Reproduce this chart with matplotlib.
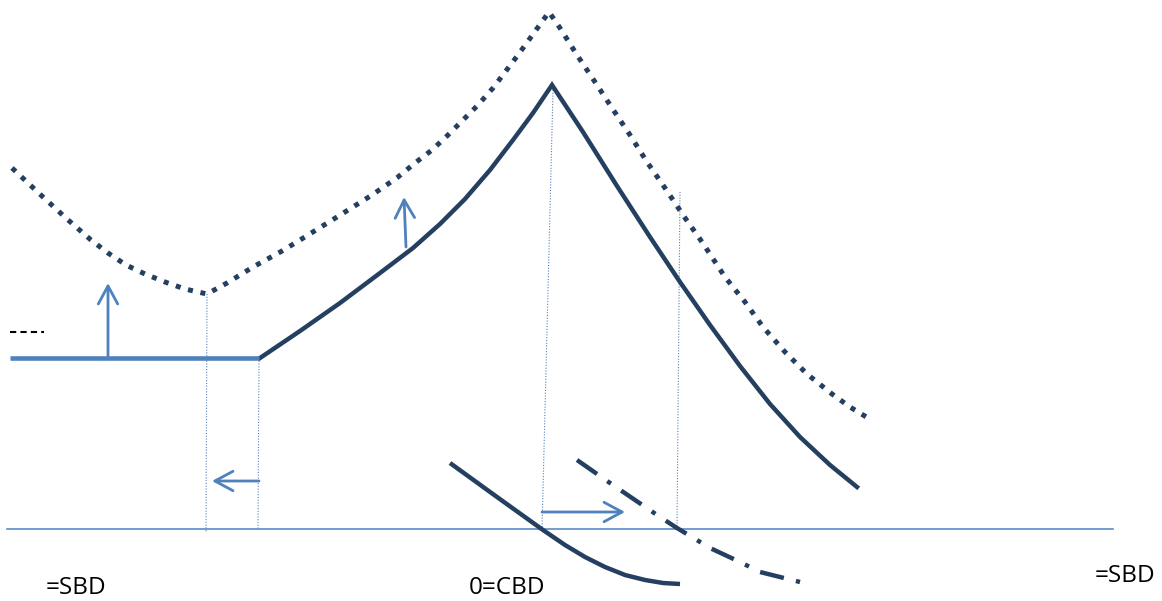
from matplotlib import pyplot as plt

# diagram drawn in picture coordinates (x to the right, y downwards)
navy = '#243f60'
blue = '#4f81bd'

# dotted upper curve
dot_x = [12, 43, 67, 91, 108, 126, 145, 165, 185, 207, 227, 253, 282, 300, 337, 372, 398, 415, 432, 448, 463, 478,
         493, 518, 549, 560, 577, 595, 612, 630, 647, 665, 683, 702, 725, 745, 763, 785, 807, 832, 850, 868]
dot_y = [168, 197, 219, 240, 253, 265, 274, 282, 289, 294, 283, 267, 251, 240, 217, 195, 177, 163, 150, 135, 120, 105,
         88, 55, 12, 28, 55, 82, 108, 135, 162, 188, 215, 242, 277, 302, 327, 352, 374, 394, 407, 418]

# solid main curve
main_x = [260, 300, 340, 380, 413, 440, 465, 490, 513, 533, 552,
          583, 617, 650, 680, 710, 740, 770, 800, 830, 857]
main_y = [358, 331, 303, 273, 248, 224, 199, 170, 140, 113, 85,
          132, 186, 237, 282, 325, 366, 404, 437, 465, 487]

# flat blue level on the left
flat_x = [10, 259]
flat_y = [358, 358]

# lower solid curve
low_x = [450, 497, 543, 565, 585, 605, 625, 645, 663, 680]
low_y = [463, 497, 530, 545, 557, 567, 575, 580, 583, 584]

# lower dash-dot curve
dd_x = [577, 610, 660, 677, 710, 740, 760, 800]
dd_y = [460, 483, 517, 528, 548, 562, 572, 582]

# baseline
base_x = [7, 1113]
base_y = [529, 529]

# thin dotted guides: (x_top, y_top, x_bottom, y_bottom)
guides = [(207, 294, 206, 532), (259, 358, 258, 529), (553, 90, 542, 530), (680, 192, 677, 528)]

# arrows: (tail, head)
arrows = [((108, 358), (108, 283)), ((406, 247), (404, 197)),
          ((259, 481), (212, 481)), ((542, 512), (625, 512))]

labels = [('=SBD', 46, 588), ('0=CBD', 469, 588), ('=SBD', 1095, 576)]

fig = plt.figure(figsize=(11.62, 6.01), dpi=100)
ax = fig.add_axes([0, 0, 1, 1])
ax.set_xlim(0, 1162)
ax.set_ylim(601, 0)
ax.axis('off')

ax.plot(base_x, base_y, color='#5a8ccb', lw=1.2)
for x0, y0, x1, y1 in guides:
    ax.plot([x0, x1], [y0, y1], color=blue, lw=0.8, linestyle=(0, (1, 1.5)))

ax.plot(dot_x, dot_y, color=navy, lw=3.6, linestyle=(0, (1, 1.55)), dash_capstyle='butt')
ax.plot(main_x, main_y, color=navy, lw=3.2, solid_joinstyle='miter')
ax.plot(flat_x, flat_y, color=blue, lw=3.3, solid_capstyle='butt')
ax.plot(low_x, low_y, color=navy, lw=3.2, solid_capstyle='butt')
ax.plot(dd_x, dd_y, color=navy, lw=3.2, linestyle=(0, (5.5, 2.8, 1, 2.8)), dash_capstyle='butt')

for tail, head in arrows:
    ax.annotate('', xy=head, xytext=tail,
                arrowprops=dict(arrowstyle='->,head_length=1.3,head_width=0.7',
                                color=blue, lw=2, shrinkA=0, shrinkB=0))

ax.plot([10, 44], [332, 332], color='black', lw=1.5, linestyle=(0, (3, 2)))

for s, x, y in labels:
    ax.text(x, y, s, fontsize=17.5, family='Open Sans', ha='left', va='center')

fig.savefig('out.png', dpi=100)
